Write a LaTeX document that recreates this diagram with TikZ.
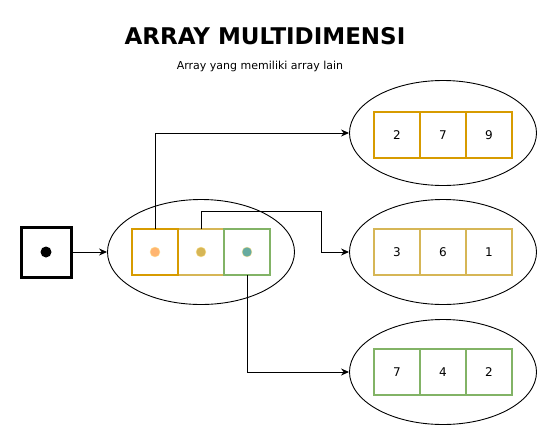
\documentclass[tikz,border=0pt]{standalone}
\usepackage{fontspec}
\setmainfont{DejaVu Sans}
\usepackage{tikz}
\usetikzlibrary{shapes, arrows, arrows.meta, positioning}
\definecolor{naranja}{HTML}{D79B00}
\definecolor{amarillo}{HTML}{D6B656}
\definecolor{verde}{HTML}{82B366}
\definecolor{durazno}{HTML}{FFB570}
\definecolor{turquesa}{HTML}{67AB9F}
\definecolor{crema}{HTML}{FFE599}
\tikzstyle{celda} = [draw, line width=2.2pt, minimum size=46pt, inner sep=0pt, outer sep=0pt, font=\fontsize{12}{14}\selectfont]
\tikzstyle{grupo} = [draw, line width=0.9pt, ellipse, minimum width=187pt, minimum height=105pt, inner sep=0pt]
\tikzstyle{punto} = [circle, draw=crema, thin, minimum size=10pt, inner sep=0pt]
\tikzstyle{flecha} = [-{Stealth[length=8pt, width=7pt]}, line width=1pt]

\begin{document}
\begin{tikzpicture}[x=1pt, y=-1pt]
	\useasboundingbox (0,0) rectangle (558,445);
	\node[font=\bfseries\fontsize{23}{28}\selectfont] (titulo) at (265,36) {ARRAY MULTIDIMENSI};
	\node[font=\fontsize{11}{13}\selectfont] (subtitulo) at (260,66) {Array yang memiliki array lain};
	% puntero
	\node[draw, line width=3pt, minimum size=50pt, inner sep=0pt] (puntero) at (46,252) {};
	\fill (puntero) circle (5.5pt);
	% array principal
	\node[grupo] (g0) at (201,252) {};
	\node[celda, draw=amarillo] (c2) at (201,252) {};
	\node[celda, draw=naranja, left=0pt of c2] (c1) {};
	\node[celda, draw=verde, right=0pt of c2] (c3) {};
	\node[punto, fill=durazno] at (c1) {};
	\node[punto, fill=amarillo] at (c2) {};
	\node[punto, fill=turquesa] at (c3) {};
	% arrays internos
	\node[grupo] (g1) at (443,133) {};
	\node[celda, draw=naranja] (a2) at (443,135) {7};
	\node[celda, draw=naranja, left=0pt of a2] (a1) {2};
	\node[celda, draw=naranja, right=0pt of a2] (a3) {9};
	\node[grupo] (g2) at (443,252) {};
	\node[celda, draw=amarillo] (b2) at (443,252) {6};
	\node[celda, draw=amarillo, left=0pt of b2] (b1) {3};
	\node[celda, draw=amarillo, right=0pt of b2] (b3) {1};
	\node[grupo] (g3) at (443,372) {};
	\node[celda, draw=verde] (d2) at (443,372) {4};
	\node[celda, draw=verde, left=0pt of d2] (d1) {7};
	\node[celda, draw=verde, right=0pt of d2] (d3) {2};
	% conectores
	\coordinate (codo) at (321,211);
	\draw[flecha] (puntero.east) -- (g0.west);
	\draw[flecha] (c1.north) |- (g1.west);
	\draw[flecha] (c2.north) |- (codo) |- (g2.west);
	\draw[flecha] (c3.south) |- (g3.west);
\end{tikzpicture}
\end{document}
